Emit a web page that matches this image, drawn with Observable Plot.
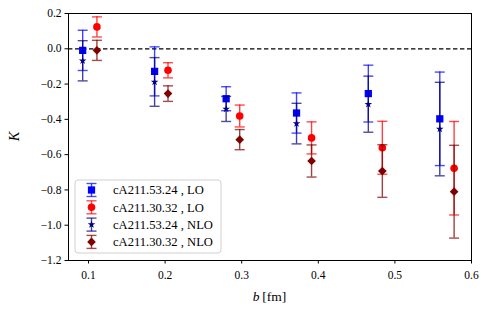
<!DOCTYPE html>
<html><head><meta charset="utf-8">
<script src="https://cdn.jsdelivr.net/npm/d3@7"></script>
<script src="https://cdn.jsdelivr.net/npm/@observablehq/plot@0.6"></script>
<style>
body{margin:0;background:#fff}
#chart{width:489px;height:314px}
</style>
</head><body><div id="chart"></div>
<script>
// ---- data ----
const seriesNames = ["cA211.53.24 , LO", "cA211.30.32 , LO", "cA211.53.24 , NLO", "cA211.30.32 , NLO"];
const b_53 = [0.0924, 0.1863, 0.2797, 0.3716, 0.4653, 0.5586];
const b_30 = [0.1110, 0.2038, 0.2974, 0.3912, 0.4836, 0.5773];
const K_LO_53 = [-0.009, -0.128, -0.283, -0.364, -0.254, -0.397];
const E_LO_53 = [0.114, 0.139, 0.068, 0.114, 0.161, 0.265];
const K_LO_30 = [0.124, -0.122, -0.381, -0.505, -0.561, -0.677];
const E_LO_30 = [0.057, 0.043, 0.062, 0.091, 0.150, 0.265];
const K_NLO_53 = [-0.068, -0.188, -0.341, -0.424, -0.314, -0.455];
const E_NLO_53 = [0.114, 0.138, 0.071, 0.115, 0.159, 0.265];
const K_NLO_30 = [-0.009, -0.254, -0.515, -0.636, -0.693, -0.810];
const E_NLO_30 = [0.057, 0.044, 0.057, 0.091, 0.149, 0.263];
const xTicks = [0.1, 0.2, 0.3, 0.4, 0.5, 0.6];
const yTicks = [0.2, 0.0, -0.2, -0.4, -0.6, -0.8, -1.0, -1.2];

// ---- styling ----
const FONT = "'Liberation Serif', 'DejaVu Serif', serif";
const colors = ["#0000ff", "#ff0000", "#000080", "#800000"];
const symbols = ["square", "circle", "star", "diamond2"];
const radii = [4.1, 3.8, 2.4, 3.9];

const hline = {draw(ctx, size) { const w = Math.sqrt(size / Math.PI); ctx.moveTo(-w, 0); ctx.lineTo(w, 0); }};

const sets = [
  {b: b_53, K: K_LO_53, E: E_LO_53},
  {b: b_30, K: K_LO_30, E: E_LO_30},
  {b: b_53, K: K_NLO_53, E: E_NLO_53},
  {b: b_30, K: K_NLO_30, E: E_NLO_30}
].map((s, i) => s.b.map((b, j) => ({b, K: s.K[j], err: s.E[j], series: seriesNames[i]})));

const marks = [Plot.ruleY([0], {stroke: "black", strokeWidth: 1.2, strokeDasharray: "4.4,2.6"})];
sets.forEach((rows, i) => {
  marks.push(Plot.ruleX(rows, {x: "b", y1: d => d.K - d.err, y2: d => d.K + d.err, stroke: colors[i], strokeWidth: 1.4, strokeOpacity: 0.75}));
  marks.push(Plot.dot(rows, {x: "b", y: d => d.K + d.err, symbol: hline, r: 5, fill: "none", stroke: colors[i], strokeWidth: 1.4, strokeOpacity: 0.7}));
  marks.push(Plot.dot(rows, {x: "b", y: d => d.K - d.err, symbol: hline, r: 5, fill: "none", stroke: colors[i], strokeWidth: 1.4, strokeOpacity: 0.7}));
  marks.push(Plot.dot(rows, {x: "b", y: "K", symbol: symbols[i], r: radii[i], fill: colors[i], stroke: "none"}));
});
marks.push(Plot.frame({stroke: "black", strokeWidth: 1}));

const chart = Plot.plot({
  width: 489, height: 314,
  marginLeft: 68, marginRight: 18, marginTop: 13, marginBottom: 54,
  style: {fontFamily: FONT, fontSize: "11.5px", background: "white", color: "black", overflow: "visible"},
  x: {domain: [0.0739, 0.6], ticks: xTicks, tickFormat: d3.format(".1f"), tickSize: 3.5, tickPadding: 7, label: null},
  y: {domain: [-1.2, 0.2], ticks: yTicks, tickFormat: d => d3.format(".1f")(Math.abs(d) < 1e-9 ? 0 : d).replace("-", "\u2212"), tickSize: 3.5, tickPadding: 3.5, label: null},
  marks
});
document.getElementById("chart").appendChild(chart);

// ---- axis labels and legend added to the same SVG ----
const svg = d3.select(chart);
const xs = chart.scale("x"), ys = chart.scale("y");
const plotLeft = xs.range[0], plotRight = xs.range[1];
const plotTop = ys.range[1], plotBottom = ys.range[0];

svg.append("text").attr("x", (plotLeft + plotRight) / 2).attr("y", 301)
  .attr("text-anchor", "middle").attr("font-family", FONT).attr("font-size", 13.5).attr("fill", "black")
  .call(t => { t.append("tspan").attr("font-style", "italic").text("b"); t.append("tspan").text("\u2009[fm]"); });

svg.append("text").attr("transform", `translate(19,${(plotTop + plotBottom) / 2}) rotate(-90)`)
  .attr("text-anchor", "middle").attr("font-family", FONT).attr("font-size", 14.5).attr("font-style", "italic").attr("fill", "black")
  .text("K");

const lg = svg.append("g").attr("text-anchor", "start");
lg.append("rect").attr("x", plotLeft + 7).attr("y", 180).attr("width", 146).attr("height", 73).attr("rx", 3)
  .attr("fill", "white").attr("fill-opacity", 0.8).attr("stroke", "#d0d0d0").attr("stroke-width", 1);
const symMap = {square: d3.symbolSquare, circle: d3.symbolCircle, star: d3.symbolStar, diamond2: d3.symbolDiamond2};
seriesNames.forEach((name, i) => {
  const cy = 190 + i * 17.3, cx = plotLeft + 23.5;
  const g = lg.append("g");
  g.append("line").attr("x1", cx).attr("x2", cx).attr("y1", cy - 6.5).attr("y2", cy + 6.5).attr("stroke", colors[i]).attr("stroke-width", 1.4).attr("stroke-opacity", 0.75);
  [-6.5, 6.5].forEach(o => g.append("line").attr("x1", cx - 5).attr("x2", cx + 5).attr("y1", cy + o).attr("y2", cy + o).attr("stroke", colors[i]).attr("stroke-width", 1.4).attr("stroke-opacity", 0.7));
  g.append("path").attr("transform", `translate(${cx},${cy})`).attr("d", d3.symbol(symMap[symbols[i]], Math.PI * radii[i] * radii[i])()).attr("fill", colors[i]);
  g.append("text").attr("x", plotLeft + 45).attr("y", cy).attr("dy", "0.35em").attr("text-anchor", "start").attr("font-family", FONT).attr("font-size", 12.6).attr("fill", "black").text(name);
});
</script></body></html>
